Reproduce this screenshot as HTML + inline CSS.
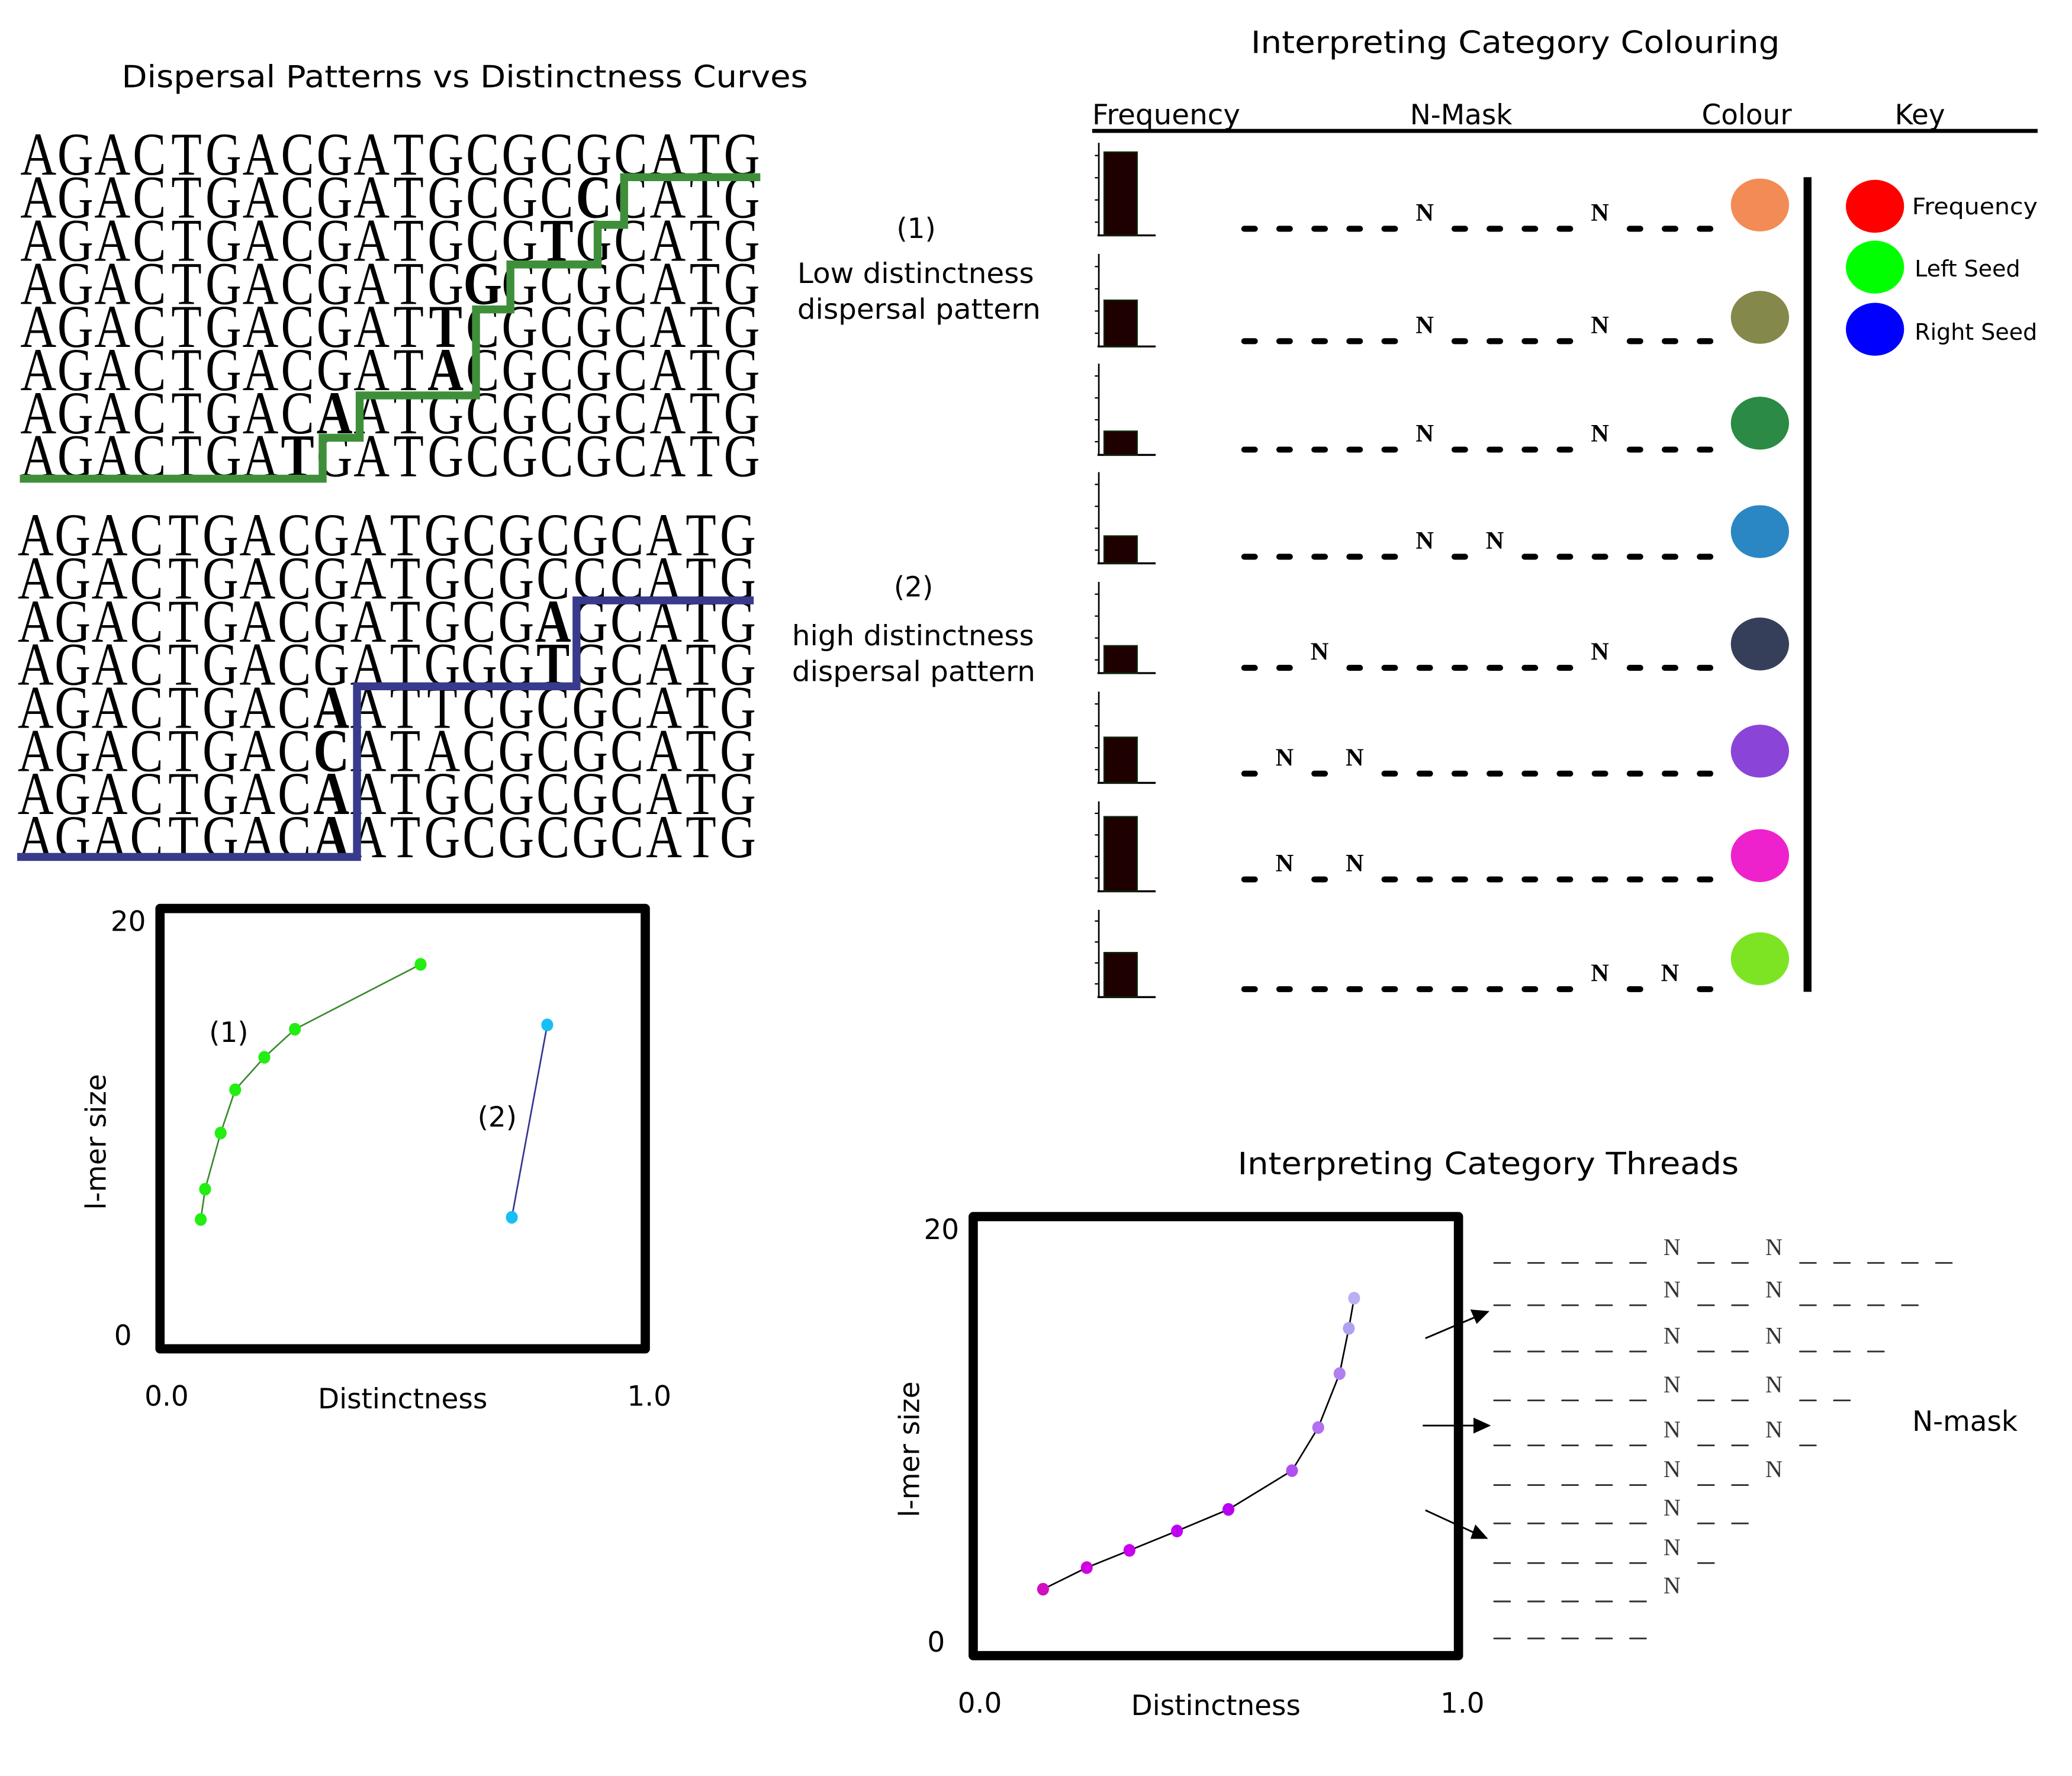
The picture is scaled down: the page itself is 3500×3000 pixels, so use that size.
<!DOCTYPE html>
<html><head><meta charset="utf-8"><style>
html,body{margin:0;padding:0;background:#fff;}
svg{display:block;}
text{font-family:"DejaVu Sans","Liberation Sans",sans-serif;}
.seq{font-family:"Liberation Serif",serif;font-size:46px;}
.mono{font-family:"Liberation Serif",serif;}
</style></head><body>
<svg id="root" width="3500" height="3000" viewBox="0 0 1567 1343" preserveAspectRatio="none" xmlns="http://www.w3.org/2000/svg">
<rect width="1570" height="1345" fill="#fff"/>
<text x="92" y="66" font-size="23" textLength="519" lengthAdjust="spacingAndGlyphs">Dispersal Patterns vs Distinctness Curves</text>
<text x="946" y="40" font-size="23" textLength="400" lengthAdjust="spacingAndGlyphs">Interpreting Category Colouring</text>
<text x="936" y="888" font-size="23" textLength="379" lengthAdjust="spacingAndGlyphs">Interpreting Category Threads</text>

<g font-size="21">
<text x="678" y="180">(1)</text>
<text x="603" y="214" textLength="179" lengthAdjust="spacingAndGlyphs">Low distinctness</text>
<text x="603" y="241" textLength="184" lengthAdjust="spacingAndGlyphs">dispersal pattern</text>
<text x="676" y="451">(2)</text>
<text x="599" y="488" textLength="183" lengthAdjust="spacingAndGlyphs">high distinctness</text>
<text x="599" y="515" textLength="184" lengthAdjust="spacingAndGlyphs">dispersal pattern</text>
</g>

<g id="seqs"></g>
<polyline fill="none" stroke="#3f8f3a" stroke-width="6" points="15,362 244,362 244,331 272,331 272,299 360,299 360,234 386,234 386,200 452,200 452,170 472,170 472,134 575,134"/>
<polyline fill="none" stroke="#383a8c" stroke-width="6" points="13,648 270,648 270,519 436,519 436,454 570,454"/>

<g id="chart1"></g>
<g id="chart2"></g>

<g stroke="#000" stroke-width="1.3" fill="#000">
<line x1="1078" y1="1012" x2="1118" y2="995"/><polygon points="1125,992 1113,991 1117,1000"/>
<line x1="1076" y1="1078" x2="1118" y2="1078"/><polygon points="1126,1078 1115,1073 1115,1083"/>
<line x1="1078" y1="1142" x2="1117" y2="1160"/><polygon points="1124,1163 1116,1154 1113,1163"/>
</g>
<g id="nmask-threads"></g>
<text x="1486" y="1082" font-size="21" text-anchor="middle">N-mask</text>

<g font-size="21">
<text x="826" y="94" textLength="112" lengthAdjust="spacingAndGlyphs">Frequency</text><text x="1105" y="94" text-anchor="middle">N-Mask</text>
<text x="1321" y="94" text-anchor="middle">Colour</text><text x="1452" y="94" text-anchor="middle">Key</text>
<line x1="826" y1="99" x2="1541" y2="99" stroke="#000" stroke-width="3"/>
</g>
<g id="colour-rows"></g>
<rect x="1364" y="134" width="6" height="616" fill="#000"/>
<g font-size="17">
<ellipse cx="1418" cy="156" rx="22" ry="20" fill="#ff0000"/>
<text x="1446" y="162" textLength="95" lengthAdjust="spacingAndGlyphs">Frequency</text>
<ellipse cx="1418" cy="202" rx="22" ry="20" fill="#00ff00"/>
<text x="1448" y="209">Left Seed</text>
<ellipse cx="1418" cy="249" rx="22" ry="20" fill="#0000ff"/>
<text x="1448" y="257">Right Seed</text>
</g>
</svg>
<script>
// ---- data ----
const seqBlock1 = [["AGACTGACGATGCGCGCATG",-1],["AGACTGACGATGCGCCCATG",15],["AGACTGACGATGCGTGCATG",14],["AGACTGACGATGGGCGCATG",12],["AGACTGACGATTCGCGCATG",11],["AGACTGACGATACGCGCATG",11],["AGACTGACAATGCGCGCATG",8],["AGACTGATGATGCGCGCATG",7]];
const seqBlock2 = [["AGACTGACGATGCGCGCATG",-1],["AGACTGACGATGCGCCCATG",-1],["AGACTGACGATGCGAGCATG",14],["AGACTGACGATGGGTGCATG",14],["AGACTGACAATTCGCGCATG",8],["AGACTGACCATACGCGCATG",8],["AGACTGACAATGCGCGCATG",8],["AGACTGACAATGCGCGCATG",8]];
const curve1X = [0.084,0.093,0.125,0.155,0.215,0.278,0.537];
const curve1Y = [5.8,7.2,9.8,11.8,13.3,14.6,17.6];
const curve2X = [0.725,0.798];
const curve2Y = [5.9,14.8];
const threadX = [0.144,0.234,0.322,0.42,0.526,0.657,0.711,0.755,0.774,0.785];
const threadY = [2.9,3.9,4.7,5.6,6.6,8.4,10.4,12.9,15.0,16.4];
const threadColors = ["#d010c0","#d000e0","#c800f0","#c000f0","#b800f0","#b050f0","#b070f0","#b080f0","#b0a0f0","#b8b0f0"];
const freqValues = [0.9,0.5,0.26,0.3,0.3,0.5,0.83,0.51];
const rowColours = ["#f28b55","#85884b","#2a8a46","#2b87c4","#363f5a","#8a45d8","#ee22cc","#7de423"];
const rowMasks = ["_____N____N___","_____N____N___","_____N____N___","_____N_N______","__N_______N___","_N_N__________","_N_N__________","__________N_N_"];
const threadMasks = ["_____N__N_____","_____N__N____","_____N__N___","_____N__N__","_____N__N_","_____N__N","_____N__","_____N_","_____N","_____"];

const NS="http://www.w3.org/2000/svg";
function mk(tag,attrs,parent){const e=document.createElementNS(NS,tag);for(const k in attrs)e.setAttribute(k,attrs[k]);parent.appendChild(e);return e;}

const seqG=document.getElementById('seqs');
const SQ=0.82;
function drawBlock(block,x0,y0,dy,w,name){
  const cw=w/20;
  const g=mk('g',{transform:'translate('+x0+',0) scale('+SQ+',1)'},seqG);
  block.forEach((r,i)=>{
    const s=r[0],b=r[1];
    const t=mk('text',{y:y0+i*dy,class:'seq','text-anchor':'middle'},g);
    
    
    for(let k=0;k<s.length;k++){
      const sp=document.createElementNS(NS,'tspan');
      sp.setAttribute('x',((k+0.5)*cw)/SQ);
      if(k===b)sp.setAttribute('font-weight','bold');
      sp.textContent=s[k];t.appendChild(sp);
    }
  });
}
drawBlock(seqBlock1,15,132,32.6,560,'low-seq');
drawBlock(seqBlock2,13,420,32.6,559,'high-seq');

function chart(gid,L,T,R,B,series,labels){
  const g=document.getElementById(gid);
  const sx=v=>L+v*(R-L), sy=v=>B-3-v*(B-T-6)/20;
  const box=mk('rect',{x:L,y:T,width:R-L,height:B-T,fill:'none',stroke:'#000','stroke-width':7,'stroke-linejoin':'round'},g);
  
  
  const tl=[["20",L-24,T+17,'y-tick-20'],["0",L-28,B-3,'y-tick-0'],["0.0",L+5,B+43,'x-tick-0'],["1.0",R+3,B+43,'x-tick-1']];
  tl.forEach(a=>{const t=mk('text',{x:a[1],y:a[2],'font-size':21,'text-anchor':'middle'},g);t.textContent=a[0];
    
    });
  const xt=mk('text',{x:(L+R)/2,y:B+45,'font-size':21,'text-anchor':'middle'},g);xt.textContent='Distinctness';
  
  
  const yc=(T+B)/2+10;
  const yt=mk('text',{x:0,y:0,'font-size':21,'text-anchor':'middle',transform:'translate('+(L-41)+','+yc+') rotate(-90)'},g);yt.textContent='l-mer size';
  
  
  series.forEach((s,si)=>{
    const pts=s.x.map((v,i)=>sx(v)+','+sy(s.y[i])).join(' ');
    const pl=mk('polyline',{points:pts,fill:'none',stroke:s.line,'stroke-width':1.2},g);
    
    
    s.x.forEach((v,i)=>{const c=mk('ellipse',{cx:sx(v),cy:sy(s.y[i]),rx:4.5,ry:4.8,fill:Array.isArray(s.pt)?s.pt[i]:s.pt},g);
      
      });
  });
  labels.forEach(l=>{const t=mk('text',{x:l[0],y:l[1],'font-size':21,'text-anchor':'middle'},g);t.textContent=l[2];
    
    });
}
chart('chart1',121,687,488,1020,[{x:curve1X,y:curve1Y,line:'#3a8a2e',pt:'#22ee11',name:'curve-1'},{x:curve2X,y:curve2Y,line:'#35358f',pt:'#16bff5',name:'curve-2'}],[[173,788,'(1)'],[376,852,'(2)']]);
chart('chart2',736,920,1103,1252,[{x:threadX,y:threadY,line:'#000',pt:threadColors,name:'thread'}],[]);

const cr=document.getElementById('colour-rows');
const rowTop=[108,192,275,357,440,523,606,688], rowBot=[178,262,344,426,509,592,674,754];
const maskY=[173,258,340,421,505,585,665,748], circY=[155,240,320,402,487,568,647,725];
function drawMask(g,mask,x0,step,y,dashW,sw,fs,bold,col){
  for(let i=0;i<mask.length;i++){
    const cx=x0+i*step;
    if(mask[i]==='N'){const t=mk('text',{x:cx,y:y-6,'font-size':fs,'text-anchor':'middle',class:'mono','font-weight':bold?'bold':'normal',fill:col},g);t.textContent='N';
      
      }
    else{const l=mk('line',{x1:cx-dashW/2,x2:cx+dashW/2,y1:y,y2:y,stroke:col,'stroke-width':sw,'stroke-linecap':'round'},g);
      
      }
  }
}
for(let r=0;r<8;r++){
  const g=mk('g',{},cr);
  
  
  const top=rowTop[r],bot=rowBot[r],h=bot-top;
  mk('line',{x1:831,y1:top,x2:831,y2:bot,stroke:'#000','stroke-width':1.2},g);
  mk('line',{x1:830,y1:bot,x2:874,y2:bot,stroke:'#000','stroke-width':1.5},g);
  for(let k=0;k<4;k++){const ty=bot-10-k*h*0.24;mk('line',{x1:828,y1:ty,x2:831,y2:ty,stroke:'#000','stroke-width':1},g);}
  const bh=freqValues[r]*h;
  const bar=mk('rect',{x:835,y:bot-bh,width:25,height:bh,fill:'#1e0000',stroke:'#0c2a0c','stroke-width':1},g);
  
  
  drawMask(g,rowMasks[r],945,26.5,maskY[r],8,4.5,19,true,'#000');
  const c=mk('ellipse',{cx:1331,cy:circY[r],rx:22,ry:20,fill:rowColours[r]},g);
  
  
}
const tm=document.getElementById('nmask-threads');
const tY=[955,987,1022,1059,1093,1123,1152,1182,1211,1239];
threadMasks.forEach((m,i)=>{const g=mk('g',{},tm);
  
  
  drawMask(g,m,1136,25.7,tY[i],12,1.3,18,false,'#333');});
</script>
</body></html>
